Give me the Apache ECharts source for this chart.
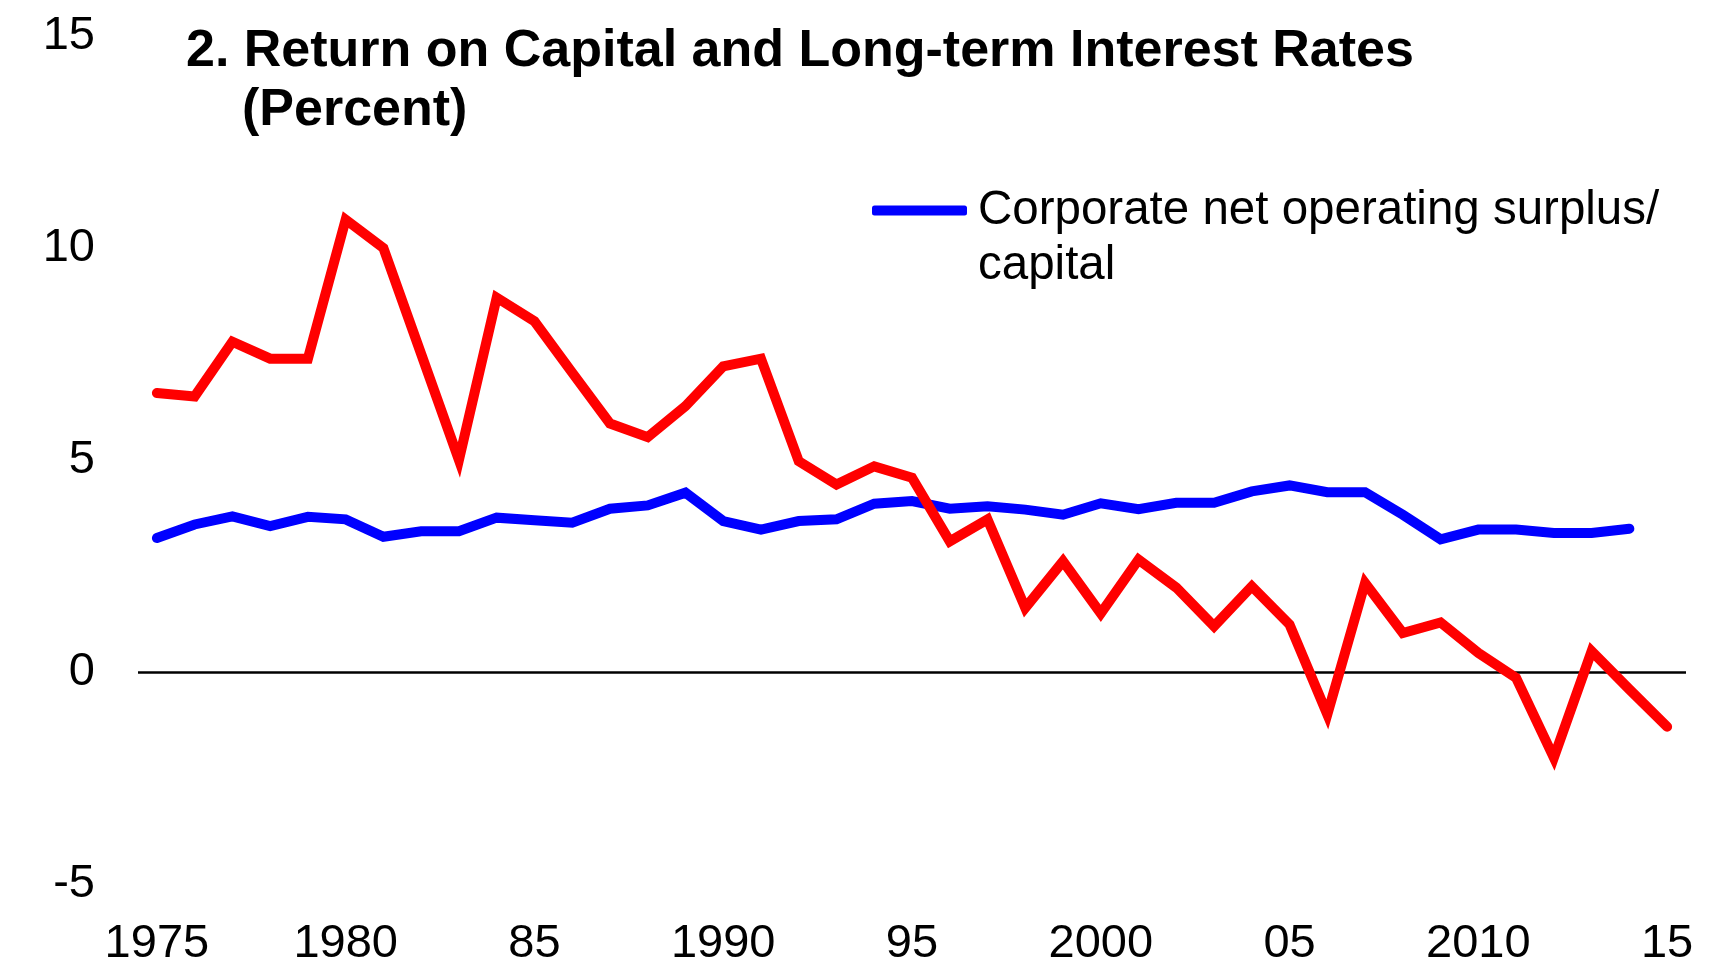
<!DOCTYPE html>
<html>
<head>
<meta charset="utf-8">
<title>Return on Capital and Long-term Interest Rates</title>
<script src="https://cdn.jsdelivr.net/npm/echarts@6/dist/echarts.min.js"></script>
<style>
    html, body { margin: 0; padding: 0; background: #fff; }
    #chart { width: 1722px; height: 968px; }
</style>
</head>
<body>
<div id="chart"></div>
<script>
// years on the x axis
const years = [];
for (let y = 1975; y <= 2015; y++) years.push(String(y));

// tick labels shown under the axis (every 5 years)
const yearLabels = {
    '1975': '1975', '1980': '1980', '1985': '85', '1990': '1990', '1995': '95',
    '2000': '2000', '2005': '05', '2010': '2010', '2015': '15'
};

// corporate net operating surplus / capital, 1975-2014
const surplusCapital = [
    3.16, 3.48, 3.67, 3.44, 3.66, 3.60, 3.19, 3.32, 3.32, 3.64,
    3.58, 3.52, 3.85, 3.93, 4.23, 3.56, 3.36, 3.56, 3.60, 3.97,
    4.03, 3.85, 3.91, 3.83, 3.71, 3.98, 3.84, 3.99, 3.99, 4.26,
    4.40, 4.24, 4.24, 3.71, 3.13, 3.36, 3.36, 3.28, 3.28, 3.38
];

// long-term interest rate, 1975-2015
const longRate = [
    6.58, 6.50, 7.79, 7.39, 7.39, 10.67, 10.00, 7.50, 5.00, 8.83,
    8.27, 7.06, 5.86, 5.54, 6.27, 7.21, 7.39, 4.97, 4.42, 4.85,
    4.58, 3.08, 3.60, 1.51, 2.61, 1.38, 2.65, 1.99, 1.08, 2.02,
    1.12, -1.00, 2.10, 0.92, 1.17, 0.45, -0.14, -2.02, 0.49, -0.41,
    -1.29
];

const font = "'Liberation Sans', Arial, sans-serif";

const chart = echarts.init(document.getElementById('chart'));

chart.setOption({
    animation: false,
    backgroundColor: '#fff',
    textStyle: { fontFamily: font },
    title: {
        left: 181,
        top: 17,
        text: '{a|2. Return on Capital and Long-term Interest Rates}\n{b|(Percent)}',
        textStyle: {
            rich: {
                a: { fontFamily: font, fontSize: 52, fontWeight: 'bold', color: '#000', lineHeight: 59 },
                b: { fontFamily: font, fontSize: 52, fontWeight: 'bold', color: '#000', lineHeight: 59, padding: [0, 0, 0, 56] }
            }
        }
    },
    legend: {
        data: ['Corporate net operating surplus/capital'],
        left: 867,
        top: 123,
        icon: 'roundRect',
        itemWidth: 95,
        itemHeight: 10,
        itemGap: 12,
        // empty first line keeps the icon level with the first text line
        formatter: () => '\nCorporate net operating surplus/\ncapital',
        textStyle: {
            fontFamily: font,
            fontSize: 47.5,
            lineHeight: 55,
            color: '#000',
            padding: [0, 0, 0, 6]
        }
    },
    grid: {
        left: 138,
        right: 36,
        top: 36,
        bottom: 84,
        containLabel: false
    },
    xAxis: {
        type: 'category',
        data: years,
        boundaryGap: true,
        axisLine: { show: false, onZero: false },
        axisTick: { show: false },
        axisLabel: {
            interval: 4,
            margin: 37,
            fontFamily: font,
            fontSize: 47,
            color: '#000',
            formatter: v => yearLabels[v] || ''
        }
    },
    yAxis: {
        type: 'value',
        min: -5,
        max: 15,
        interval: 5,
        axisLine: { show: false },
        axisTick: { show: false },
        splitLine: { show: false },
        axisLabel: {
            margin: 43,
            fontFamily: font,
            fontSize: 47,
            color: '#000'
        }
    },
    series: [
        {
            name: 'Corporate net operating surplus/capital',
            type: 'line',
            data: surplusCapital,
            symbol: 'none',
            color: '#0000ff',
            lineStyle: { color: '#0000ff', width: 10, cap: 'round', join: 'miter' },
            z: 3
        },
        {
            name: 'Long-term interest rate',
            type: 'line',
            data: longRate,
            symbol: 'none',
            color: '#ff0000',
            lineStyle: { color: '#ff0000', width: 10, cap: 'round', join: 'miter' },
            z: 4,
            // zero line
            markLine: {
                silent: true,
                symbol: 'none',
                label: { show: false },
                lineStyle: { color: '#000', width: 2.5, type: 'solid' },
                data: [{ yAxis: 0 }],
                z: 1
            }
        }
    ]
});
</script>
</body>
</html>
